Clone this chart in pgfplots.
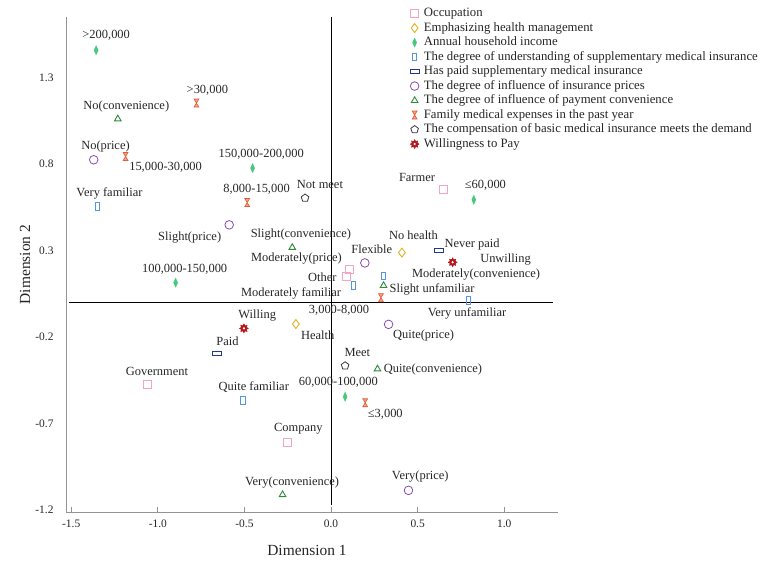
\documentclass[border=0pt]{standalone}
\usepackage{fontspec}
\setmainfont{Liberation Serif}
\usepackage{pgfplots}
\pgfplotsset{compat=1.18}
\usetikzlibrary{plotmarks}

\definecolor{cOcc}{RGB}{242,165,198}
\definecolor{cHealth}{RGB}{222,178,30}
\definecolor{cInc}{RGB}{70,200,125}
\definecolor{cUnd}{RGB}{85,150,225}
\definecolor{cPaid}{RGB}{35,55,140}
\definecolor{cPrice}{RGB}{135,75,175}
\definecolor{cConv}{RGB}{45,140,55}
\definecolor{cExp}{RGB}{228,92,55}
\definecolor{cComp}{RGB}{55,55,65}
\definecolor{cWill}{RGB}{180,20,25}

\pgfdeclareplotmark{hourglass}{%
  \pgfpathmoveto{\pgfqpoint{-0.6\pgfplotmarksize}{\pgfplotmarksize}}%
  \pgfpathlineto{\pgfqpoint{0.6\pgfplotmarksize}{\pgfplotmarksize}}%
  \pgfpathlineto{\pgfqpoint{-0.6\pgfplotmarksize}{-\pgfplotmarksize}}%
  \pgfpathlineto{\pgfqpoint{0.6\pgfplotmarksize}{-\pgfplotmarksize}}%
  \pgfpathclose
  \pgfusepathqfillstroke}
\pgfdeclareplotmark{tallrect}{%
  \pgfpathrectangle{\pgfqpoint{-0.45\pgfplotmarksize}{-0.85\pgfplotmarksize}}{\pgfqpoint{0.9\pgfplotmarksize}{1.7\pgfplotmarksize}}%
  \pgfusepathqstroke}
\pgfdeclareplotmark{widerect}{%
  \pgfpathrectangle{\pgfqpoint{-1\pgfplotmarksize}{-0.45\pgfplotmarksize}}{\pgfqpoint{2\pgfplotmarksize}{0.9\pgfplotmarksize}}%
  \pgfusepathqstroke}
\pgfdeclareplotmark{gear}{%
  \pgfpathmoveto{\pgfqpoint{\pgfplotmarksize}{0pt}}%
  \pgfpathlineto{\pgfqpoint{0.573\pgfplotmarksize}{0.237\pgfplotmarksize}}%
  \pgfpathlineto{\pgfqpoint{0.707\pgfplotmarksize}{0.707\pgfplotmarksize}}%
  \pgfpathlineto{\pgfqpoint{0.237\pgfplotmarksize}{0.573\pgfplotmarksize}}%
  \pgfpathlineto{\pgfqpoint{0pt}{\pgfplotmarksize}}%
  \pgfpathlineto{\pgfqpoint{-0.237\pgfplotmarksize}{0.573\pgfplotmarksize}}%
  \pgfpathlineto{\pgfqpoint{-0.707\pgfplotmarksize}{0.707\pgfplotmarksize}}%
  \pgfpathlineto{\pgfqpoint{-0.573\pgfplotmarksize}{0.237\pgfplotmarksize}}%
  \pgfpathlineto{\pgfqpoint{-\pgfplotmarksize}{0pt}}%
  \pgfpathlineto{\pgfqpoint{-0.573\pgfplotmarksize}{-0.237\pgfplotmarksize}}%
  \pgfpathlineto{\pgfqpoint{-0.707\pgfplotmarksize}{-0.707\pgfplotmarksize}}%
  \pgfpathlineto{\pgfqpoint{-0.237\pgfplotmarksize}{-0.573\pgfplotmarksize}}%
  \pgfpathlineto{\pgfqpoint{0pt}{-\pgfplotmarksize}}%
  \pgfpathlineto{\pgfqpoint{0.237\pgfplotmarksize}{-0.573\pgfplotmarksize}}%
  \pgfpathlineto{\pgfqpoint{0.707\pgfplotmarksize}{-0.707\pgfplotmarksize}}%
  \pgfpathlineto{\pgfqpoint{0.573\pgfplotmarksize}{-0.237\pgfplotmarksize}}%
  \pgfpathclose
  \pgfusepathqfillstroke
  \pgfscope
  \pgfsetfillcolor{white}%
  \pgfpathcircle{\pgfpointorigin}{0.28\pgfplotmarksize}%
  \pgfusepathqfill
  \endpgfscope}

\pgfplotsset{pt/.style={only marks,
  legend image code/.code={\draw[mark repeat=2,mark phase=2,##1] plot coordinates {(0cm,0cm)(0.13cm,0cm)(0.26cm,0cm)};}}}
\tikzset{lbl/.style={font=\fontsize{12.5}{13}\selectfont, inner sep=0pt, text=black!85}}

\begin{document}
\begin{tikzpicture}
\useasboundingbox (0,0) rectangle (767bp,565bp);
\begin{axis}[
  at={(66bp,53bp)}, anchor=south west,
  scale only axis, width=492bp, height=495bp,
  xmin=-1.53, xmax=1.31, ymin=-1.21, ymax=1.65,
  axis x line*=bottom, axis y line*=left,
  axis line style={-, draw=gray!85, line width=0.8pt},
  xtick={-1.5,-1.0,-0.5,0,0.5,1.0},
  ytick={-1.2,-0.7,-0.2,0.3,0.8,1.3},
  tick align=inside,
  x tick style={draw=gray!85, line width=0.8pt},
  major tick length=5bp,
  y tick style={draw=none},
  tick label style={font=\fontsize{11.5}{12}\selectfont, text=black!85},
  xticklabel style={yshift=-4bp, /pgf/number format/.cd, fixed, fixed zerofill, precision=1, assume math mode=true},
  yticklabel style={xshift=-9bp, /pgf/number format/.cd, fixed, fixed zerofill, precision=1, assume math mode=true},
  xlabel={Dimension 1}, ylabel={Dimension 2},
  every axis x label/.style={at={(rel axis cs:0.5,0)}, anchor=center, xshift=-5bp, yshift=-38bp},
  every axis y label/.style={at={(rel axis cs:0,0.5)}, anchor=center, xshift=-41bp, rotate=90},
  label style={font=\fontsize{15.5}{16}\selectfont, text=black!85},
  legend cell align=left,
  legend style={draw=none, fill=none, at={(0.693,1.026)}, anchor=north west,
    font=\fontsize{12.8}{13}\selectfont, text=black!85,
    nodes={inner sep=1.25bp, text height=9bp, text depth=3bp},
    /tikz/every odd column/.append style={column sep=3.5bp},
    row sep=0pt},
  clip=false,
]
\draw[black, line width=0.8pt] (axis cs:-1.51,0) -- (axis cs:1.28,0);
\draw[black, line width=0.8pt] (axis cs:0,1.65) -- (axis cs:0,-1.17);

\addplot[pt, color=cOcc, mark=square, mark size=4bp, mark options={line width=0.8pt}] coordinates {
(0.650,0.656) (-1.063,-0.473) (-0.253,-0.809) (0.106,0.193) (0.087,0.150)};
\addlegendentry{Occupation}
\addplot[pt, color=cHealth, mark=diamond, mark size=4.5bp, mark options={line width=0.9pt}] coordinates {
(0.409,0.289) (-0.203,-0.124)};
\addlegendentry{Emphasizing health management}
\addplot[pt, color=cInc, mark=diamond*, mark size=4.5bp, mark options={fill=cInc, xscale=0.6}] coordinates {
(-1.356,1.458) (-0.453,0.777) (-0.897,0.115) (0.081,-0.544) (0.824,0.594)};
\addlegendentry{Annual household income}
\addplot[pt, color=cUnd, mark=tallrect, mark size=4.5bp, mark options={line width=0.8pt}] coordinates {
(-1.350,0.555) (-0.509,-0.564) (0.129,0.098) (0.303,0.154) (0.795,0.011)};
\addlegendentry{The degree of understanding of supplementary medical insurance}
\addplot[pt, color=cPaid, mark=widerect, mark size=4.5bp, mark options={line width=0.9pt}] coordinates {
(-0.661,-0.294) (0.623,0.299)};
\addlegendentry{Has paid supplementary medical insurance}
\addplot[pt, color=cPrice, mark=o, mark size=4.3bp, mark options={line width=0.8pt}] coordinates {
(-1.370,0.825) (-0.588,0.449) (0.195,0.229) (0.332,-0.126) (0.447,-1.085)};
\addlegendentry{The degree of influence of insurance prices}
\addplot[pt, color=cConv, mark=triangle, mark size=3.8bp, mark options={line width=0.9pt}] coordinates {
(-1.231,1.061) (-0.224,0.318) (0.303,0.098) (0.268,-0.384) (-0.280,-1.110)};
\addlegendentry{The degree of influence of payment convenience}
\addplot[pt, color=cExp, mark=hourglass, mark size=4bp, mark options={fill=cExp!55, line width=0.7pt}] coordinates {
(-0.777,1.153) (-1.186,0.844) (-0.484,0.578) (0.288,0.028) (0.197,-0.579)};
\addlegendentry{Family medical expenses in the past year}
\addplot[pt, color=cComp, mark=pentagon, mark size=4bp, mark options={line width=0.8pt}] coordinates {
(-0.150,0.604) (0.081,-0.365)};
\addlegendentry{The compensation of basic medical insurance meets the demand}
\addplot[pt, color=cWill, mark=gear, mark size=4.5bp, mark options={fill=cWill, line width=0.4pt}] coordinates {
(-0.503,-0.149) (0.702,0.233)};
\addlegendentry{Willingness to Pay}

\node[lbl] at (axis cs:-1.298,1.542) {>200,000};
\node[lbl] at (axis cs:-0.714,1.226) {>30,000};
\node[lbl] at (axis cs:-1.182,1.130) {No(convenience)};
\node[lbl] at (axis cs:-1.302,0.902) {No(price)};
\node[lbl] at (axis cs:-0.955,0.783) {15,000-30,000};
\node[lbl] at (axis cs:-0.403,0.854) {150,000-200,000};
\node[lbl] at (axis cs:-0.430,0.652) {8,000-15,000};
\node[lbl] at (axis cs:-0.064,0.682) {Not meet};
\node[lbl] at (axis cs:-1.279,0.630) {Very familiar};
\node[lbl] at (axis cs:0.496,0.725) {Farmer};
\node[lbl] at (axis cs:0.891,0.677) {≤60,000};
\node[lbl] at (axis cs:0.476,0.389) {No health};
\node[lbl] at (axis cs:0.814,0.337) {Never paid};
\node[lbl] at (axis cs:1.007,0.247) {Unwilling};
\node[lbl] at (axis cs:0.235,0.310) {Flexible};
\node[lbl] at (axis cs:0.837,0.160) {Moderately(convenience)};
\node[lbl] at (axis cs:0.583,0.075) {Slight unfamiliar};
\node[lbl] at (axis cs:0.785,-0.062) {Very unfamiliar};
\node[lbl] at (axis cs:0.534,-0.188) {Quite(price)};
\node[lbl] at (axis cs:-0.816,0.378) {Slight(price)};
\node[lbl] at (axis cs:-0.174,0.395) {Slight(convenience)};
\node[lbl] at (axis cs:-0.200,0.254) {Moderately(price)};
\node[lbl] at (axis cs:-0.845,0.193) {100,000-150,000};
\node[lbl] at (axis cs:-0.050,0.146) {Other};
\node[lbl] at (axis cs:-0.231,0.054) {Moderately familiar};
\node[lbl] at (axis cs:0.046,-0.043) {3,000-8,000};
\node[lbl] at (axis cs:-0.426,-0.072) {Willing};
\node[lbl] at (axis cs:-0.077,-0.191) {Health};
\node[lbl] at (axis cs:-0.598,-0.226) {Paid};
\node[lbl] at (axis cs:-1.005,-0.400) {Government};
\node[lbl] at (axis cs:-0.446,-0.487) {Quite familiar};
\node[lbl] at (axis cs:0.152,-0.290) {Meet};
\node[lbl] at (axis cs:0.588,-0.384) {Quite(convenience)};
\node[lbl] at (axis cs:0.042,-0.463) {60,000-100,000};
\node[lbl] at (axis cs:0.313,-0.646) {≤3,000};
\node[lbl] at (axis cs:-0.189,-0.731) {Company};
\node[lbl] at (axis cs:-0.225,-1.040) {Very(convenience)};
\node[lbl] at (axis cs:0.515,-1.003) {Very(price)};
\end{axis}
\end{tikzpicture}
\end{document}
